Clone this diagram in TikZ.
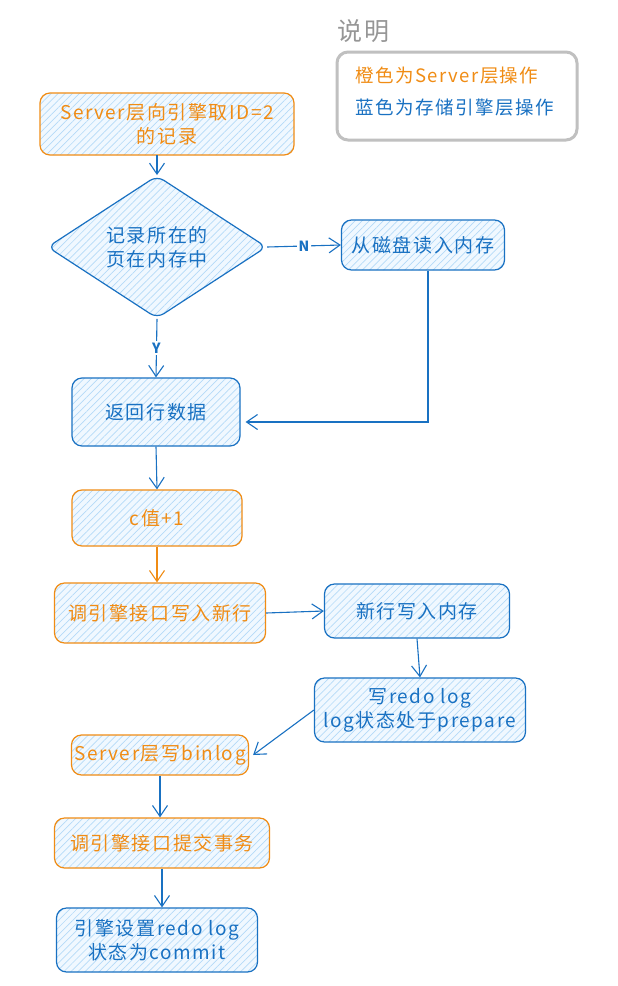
\documentclass[tikz,border=0pt]{standalone}
\usepackage{fontspec}
\setmainfont{Noto Sans CJK SC}[LetterSpace=8]
\usetikzlibrary{arrows.meta,patterns.meta,shapes.geometric}
\definecolor{orangeC}{RGB}{240,140,20}
\definecolor{blueC}{RGB}{25,113,194}
\definecolor{hatchbg}{RGB}{240,248,255}
\definecolor{hatch}{RGB}{180,218,248}
\definecolor{grayC}{RGB}{150,150,150}
\definecolor{grayL}{RGB}{192,192,192}
\begin{document}
\begin{tikzpicture}[x=1pt,y=-1pt,
  box/.style={draw, rounded corners=10pt, line width=1.2pt,
    preaction={fill=hatchbg},
    pattern={Lines[angle=45,distance=5pt,line width=0.7pt]}, pattern color=hatch,
    inner sep=0pt, align=center, font=\fontsize{19}{24}\selectfont},
  obox/.style={box, draw=orangeC, text=orangeC},
  bbox/.style={box, draw=blueC, text=blueC},
  arr/.style={-{Straight Barb[length=11pt,width=15pt]}, line width=1.1pt, draw=blueC},
  oarr/.style={arr, draw=orangeC},
  lbl/.style={fill=white, inner sep=2pt, text=blueC, font=\fontsize{14}{14}\selectfont\bfseries\itshape}
]
\useasboundingbox (0,0) rectangle (618,986);
\fill[white] (0,0) rectangle (618,986);

% legend
\node[anchor=west, text=grayC, font=\fontsize{25}{25}\selectfont, inner sep=0pt] (ttl) at (337,31) {说明};
\draw[grayL, line width=3pt, rounded corners=11pt] (337,52) rectangle (577,140);
\node[anchor=west, text=orangeC, font=\fontsize{18.5}{18.5}\selectfont, inner sep=0pt] (lg1) at (355,76) {橙色为Server层操作};
\node[anchor=west, text=blueC, font=\fontsize{18.5}{18.5}\selectfont, inner sep=0pt] (lg2) at (355,108) {蓝色为存储引擎层操作};

% nodes
\node[obox, minimum width=254pt, minimum height=62pt] (b1) at (167,124) {Server层向引擎取ID=2\\的记录};
\node[diamond, draw=blueC, line width=1.2pt, rounded corners=8pt,
    preaction={fill=hatchbg},
    pattern={Lines[angle=45,distance=5pt,line width=0.7pt]}, pattern color=hatch,
    minimum width=219pt, minimum height=115pt, inner sep=0pt, align=center,
    text=blueC, font=\fontsize{19}{24}\selectfont] (dia) at (157,247) {记录所在的\\页在内存中};
\node[bbox, minimum width=163pt, minimum height=50pt] (disk) at (423,245) {从磁盘读入内存};
\node[bbox, minimum width=168pt, minimum height=68pt] (ret) at (156,412) {返回行数据};
\node[obox, minimum width=170pt, minimum height=56pt] (cv) at (157,518) {c值+1};
\node[obox, minimum width=211pt, minimum height=60pt] (wr) at (160,613) {调引擎接口写入新行};
\node[bbox, minimum width=185pt, minimum height=54pt] (mem) at (417,611) {新行写入内存};
\node[bbox, minimum width=211pt, minimum height=64pt] (redo) at (420,710) {写redo log\\log状态处于prepare};
\node[obox, minimum width=177pt, minimum height=40pt] (bin) at (160,755) {Server层写binlog};
\node[obox, minimum width=215pt, minimum height=50pt] (cm) at (162,843) {调引擎接口提交事务};
\node[bbox, minimum width=201pt, minimum height=64pt] (set) at (157,940) {引擎设置redo log\\状态为commit};

% connectors
\draw[arr] (dia.north |- b1.south) -- (dia.north);
\draw[arr] (dia.east) -- node[lbl] (nl) {N} (disk.west);
\coordinate (corner) at ([xshift=5pt]disk.south |- 0,422);
\draw[arr] ([xshift=5pt]disk.south) -- (corner) -- ([shift={(5,10)}]ret.east);
\draw[arr] (dia.south) -- node[lbl] (yl) {Y} (ret.north);
\draw[arr] (ret.south) -- (cv.north);
\draw[oarr] (cv.south) -- (wr.north -| cv.south);
\draw[arr] (wr.east) -- (mem.west);
\draw[arr] (mem.south) -- (redo.north);
\draw[arr] (redo.west) -- ([xshift=4pt]bin.east);
\draw[arr] (bin.south) -- (cm.north -| bin.south);
\draw[arr] (cm.south) -- (set.north -| cm.south);
\end{tikzpicture}
\end{document}
